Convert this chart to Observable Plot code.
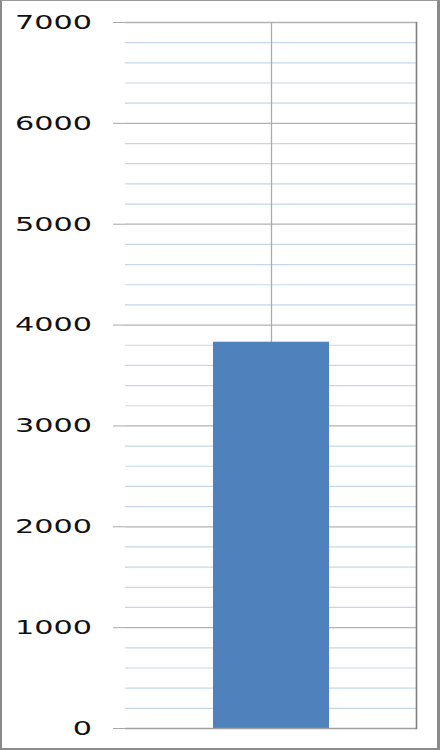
<!DOCTYPE html>
<html>
<head>
<meta charset="utf-8">
<script src="https://cdn.jsdelivr.net/npm/d3@7"></script>
<script src="https://cdn.jsdelivr.net/npm/@observablehq/plot@0.6"></script>
<style>
  html, body { margin: 0; padding: 0; background: #fff; }
  #wrap { position: relative; width: 440px; height: 750px; overflow: hidden; }
  #frame { position: absolute; left: 0; top: 0; width: 440px; height: 750px; box-sizing: border-box;
    border-left: 2px solid #8a8a8a; border-top: 1px solid #9a9a9a; border-right: 3px solid #8a8a8a; border-bottom: 2px solid #8a8a8a;
    pointer-events: none; }
  svg { display: block; }
</style>
</head>
<body>
<div id="wrap"><div id="frame"></div></div>
<script>
const categories = ["Series 1"];
const values = [3830];
const majorTicks = [0, 1000, 2000, 3000, 4000, 5000, 6000, 7000];
const minorTicks = d3.range(200, 7000, 200).filter(v => v % 1000 !== 0);

const data = categories.map((c, i) => ({category: c, value: values[i]}));

const chart = Plot.plot({
  width: 440,
  height: 750,
  marginLeft: 125,
  marginRight: 24,
  marginTop: 22,
  marginBottom: 22,
  style: {fontFamily: "DejaVu Sans", background: "white"},
  x: {domain: categories, padding: 0.4306, axis: null},
  y: {domain: [0, 7000], ticks: majorTicks, axis: null},
  marks: [
    Plot.ruleY(minorTicks, {stroke: "#c6d7ec", strokeWidth: 1.2}),
    Plot.ruleY(majorTicks.filter(v => v > 0), {stroke: "#b2b2b2", strokeWidth: 1.3}),
    Plot.ruleX(categories, {x: d => d, stroke: "#ababab", strokeWidth: 1.3}),
    Plot.barY(data, {x: "category", y: "value", fill: "#4f81bd"}),
    Plot.axisY({ticks: majorTicks, tickSize: 12, tickPadding: 21.5, stroke: "#a8a8a8",
      fontSize: 20, fill: "#111", label: null, tickFormat: d => String(d)}),
    Plot.ruleX([0], {frameAnchor: "left", stroke: "#8c8c8c", strokeWidth: 1.3}),
    Plot.ruleY([0], {stroke: "#a0a0a0", strokeWidth: 1.5}),
    Plot.frame({anchor: "right", stroke: "#808080", strokeWidth: 1.6})
  ]
});

document.getElementById("wrap").insertBefore(chart, document.getElementById("frame"));

// stretch tick labels horizontally like the reference (wide glyphs)
d3.select(chart).selectAll('g[aria-label="y-axis tick label"] text').each(function() {
  const n = this.textContent.length;
  this.setAttribute("textLength", 19.25 * n);
  this.setAttribute("lengthAdjust", "spacingAndGlyphs");
});
</script>
</body>
</html>
